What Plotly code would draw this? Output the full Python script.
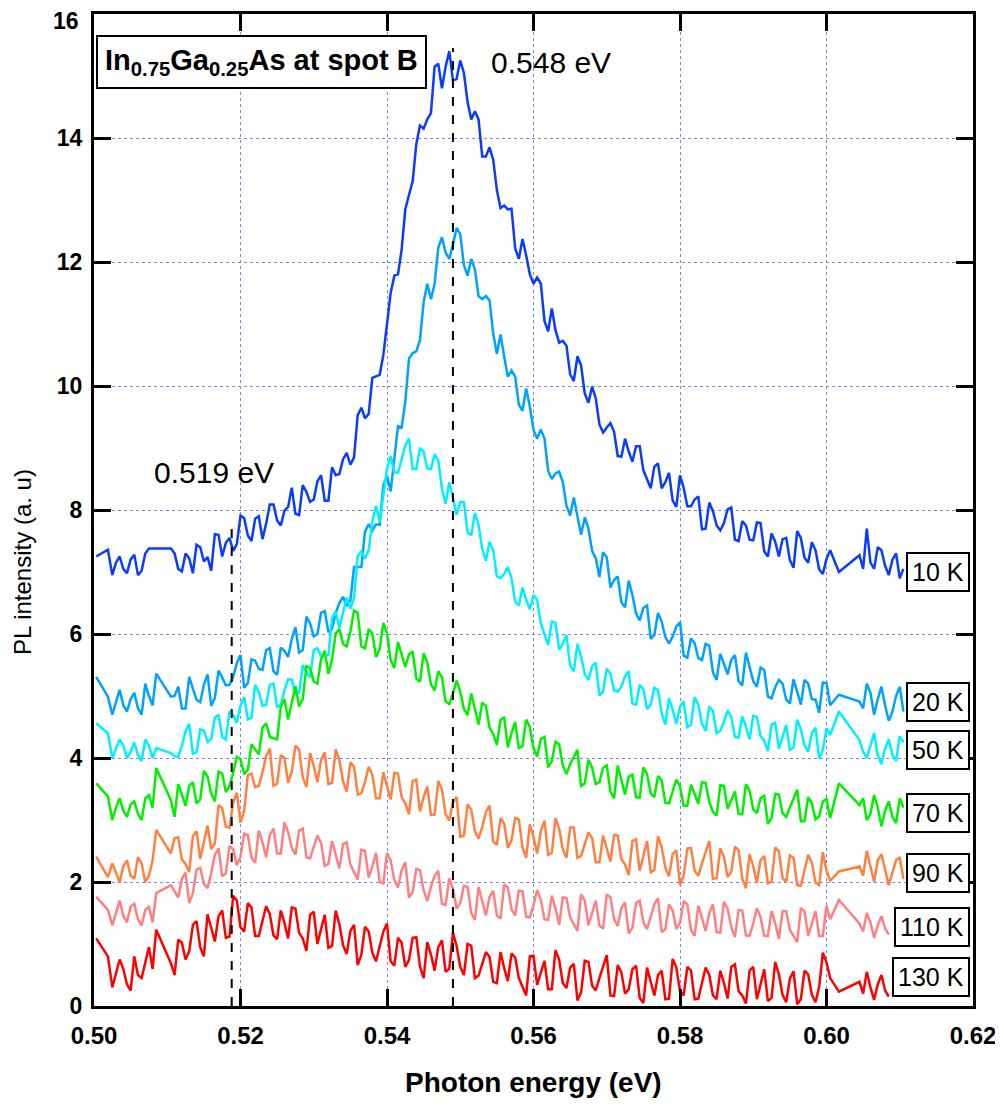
import plotly.graph_objects as go

# Photon energy sampling (eV) shared by all spectra
ENERGY = [
    0.5003, 0.5019, 0.5025, 0.5030, 0.5035, 0.5040, 0.5045, 0.5050, 0.5055, 0.5060,
    0.5065, 0.5070, 0.5075, 0.5080, 0.5085,
    0.5105, 0.5110, 0.5115, 0.5120, 0.5125, 0.5130, 0.5135, 0.5140, 0.5145, 0.5150,
    0.5155, 0.5160, 0.5165, 0.5170, 0.5175, 0.5180, 0.5185, 0.5190, 0.5195, 0.5200,
    0.5205, 0.5210, 0.5215, 0.5220, 0.5225, 0.5230, 0.5235, 0.5240, 0.5245, 0.5250,
    0.5255, 0.5260, 0.5265, 0.5270, 0.5275, 0.5280, 0.5285, 0.5290, 0.5295, 0.5300,
    0.5305, 0.5310, 0.5315, 0.5320, 0.5325, 0.5330, 0.5335, 0.5340, 0.5345, 0.5350,
    0.5355, 0.5360, 0.5365, 0.5370, 0.5375, 0.5380, 0.5385, 0.5390, 0.5395, 0.5400,
    0.5405, 0.5410, 0.5415, 0.5420, 0.5425, 0.5430, 0.5435, 0.5440, 0.5445, 0.5450,
    0.5455, 0.5460, 0.5465, 0.5470, 0.5475, 0.5480, 0.5485, 0.5490, 0.5495, 0.5500,
    0.5505, 0.5510, 0.5515, 0.5520, 0.5525, 0.5530, 0.5535, 0.5540, 0.5545, 0.5550,
    0.5555, 0.5560, 0.5565, 0.5570, 0.5575, 0.5580, 0.5585, 0.5590, 0.5595, 0.5600,
    0.5605, 0.5610, 0.5615, 0.5620, 0.5625, 0.5630, 0.5635, 0.5640, 0.5645, 0.5650,
    0.5655, 0.5660, 0.5665, 0.5670, 0.5675, 0.5680, 0.5685, 0.5690, 0.5695, 0.5700,
    0.5705, 0.5710, 0.5715, 0.5720, 0.5725, 0.5730, 0.5735, 0.5740, 0.5745, 0.5750,
    0.5755, 0.5760, 0.5765, 0.5770, 0.5775, 0.5780, 0.5785, 0.5790, 0.5795, 0.5800,
    0.5805, 0.5810, 0.5815, 0.5820, 0.5825, 0.5830, 0.5835, 0.5840, 0.5845, 0.5850,
    0.5855, 0.5860, 0.5865, 0.5870, 0.5875, 0.5880, 0.5885, 0.5890, 0.5895, 0.5900,
    0.5905, 0.5910, 0.5915, 0.5920, 0.5925, 0.5930, 0.5935, 0.5940, 0.5945, 0.5950,
    0.5955, 0.5960, 0.5965, 0.5970, 0.5975, 0.5980, 0.5985, 0.5990, 0.5995, 0.6000,
    0.6005,
    0.6017,
    0.6045, 0.6050, 0.6055, 0.6060, 0.6065, 0.6070, 0.6075, 0.6080, 0.6085, 0.6090,
    0.6095, 0.6100, 0.6105,
]

PL_10K = [
    7.25, 7.36, 6.95, 7.15, 7.25, 7.05, 6.98, 7.20, 7.28, 6.95, 7.02, 7.30, 7.38, 7.38, 7.38,
    7.38, 7.30, 7.05, 7.01, 7.30, 7.22, 6.98, 7.44, 7.40, 7.17, 7.24, 7.02, 7.61, 7.60, 7.25, 7.47, 7.55, 7.34, 7.45, 7.91,
    7.87, 7.59, 7.50, 7.86, 7.90, 7.53, 7.78, 8.09, 8.09, 7.83, 7.75, 7.99, 8.05, 8.36, 7.94, 7.92, 8.40, 8.29, 8.13, 8.17,
    8.46, 8.56, 8.15, 8.15, 8.69, 8.56, 8.58, 8.82, 8.92, 8.73, 8.85, 9.53, 9.65, 9.48, 9.55, 10.13, 10.15, 10.18, 10.50, 10.98,
    11.50, 11.78, 11.80, 12.20, 12.85, 13.08, 13.30, 13.90, 14.20, 14.15, 14.30, 14.40, 15.15, 15.20, 14.80, 15.15, 15.40, 14.93, 14.95, 15.25,
    15.05, 14.58, 14.30, 14.43, 14.30, 13.70, 13.70, 13.85, 13.65, 13.16, 12.87, 12.91, 12.85, 12.86, 12.22, 12.05, 12.37, 12.11, 11.80, 11.65,
    11.75, 11.65, 11.05, 10.88, 11.25, 10.90, 10.70, 10.73, 10.65, 10.19, 10.08, 10.48, 10.33, 9.88, 9.73, 9.99, 9.80, 9.38, 9.25, 9.33,
    9.40, 9.26, 8.87, 8.86, 9.15, 8.94, 8.78, 9.03, 9.03, 8.64, 8.50, 8.35, 8.70, 8.75, 8.35, 8.45, 8.60, 8.15, 8.05, 8.56,
    8.36, 8.06, 8.06, 8.17, 8.22, 7.69, 7.70, 8.12, 7.98, 7.75, 7.67, 7.79, 8.01, 8.04, 7.52, 7.50, 7.82, 7.75, 7.52, 7.51,
    7.80, 7.79, 7.33, 7.25, 7.62, 7.49, 7.25, 7.53, 7.55, 7.19, 7.07, 7.66, 7.55, 7.23, 7.15, 7.48, 7.35, 7.04, 6.97, 7.21,
    7.35,
    7.00,
    7.27, 7.05, 7.70, 7.15, 7.05, 7.40, 7.35, 7.10, 6.95, 7.20, 7.30, 6.90, 7.05,
]

PL_20K = [
    5.31, 4.99, 4.70, 4.90, 5.10, 4.85, 4.75, 4.95, 5.05, 4.80, 4.70, 5.20, 5.00, 4.85, 5.36,
    4.99, 5.00, 5.15, 4.80, 4.80, 5.31, 5.12, 4.94, 4.90, 5.18, 5.35, 4.84, 4.97, 5.41, 5.30, 5.17, 5.18, 5.31, 5.53, 5.66,
    5.13, 5.21, 5.59, 5.57, 5.44, 5.42, 5.74, 5.77, 5.40, 5.34, 5.78, 5.73, 5.63, 5.92, 6.11, 5.70, 5.74, 6.28, 6.17, 5.96,
    6.00, 6.34, 6.37, 6.03, 6.08, 6.34, 6.50, 6.60, 6.45, 6.54, 7.08, 7.08, 7.08, 7.65, 7.77, 7.67, 7.77, 7.76, 8.40, 8.55,
    8.30, 8.83, 9.35, 9.33, 9.75, 10.44, 10.53, 10.56, 10.74, 11.35, 11.65, 11.40, 11.65, 12.23, 12.40, 12.15, 12.05, 12.28, 12.55, 12.45,
    11.95, 11.78, 12.05, 11.88, 11.45, 11.40, 11.45, 11.38, 10.85, 10.52, 10.83, 10.47, 10.15, 10.25, 10.15, 9.70, 9.60, 9.96, 9.67, 9.29,
    9.15, 9.30, 9.15, 8.63, 8.50, 8.59, 8.62, 8.45, 8.07, 7.91, 8.20, 7.90, 7.60, 7.88, 7.70, 7.34, 7.22, 6.92, 7.32, 7.24,
    6.75, 6.87, 6.93, 6.51, 6.43, 6.86, 6.63, 6.33, 6.22, 6.42, 6.46, 5.92, 5.98, 6.34, 6.20, 5.95, 5.85, 5.96, 6.12, 6.19,
    5.65, 5.62, 5.93, 5.85, 5.61, 5.58, 5.84, 5.81, 5.38, 5.26, 5.68, 5.52, 5.35, 5.58, 5.66, 5.24, 5.17, 5.70, 5.47, 5.24,
    5.15, 5.46, 5.42, 4.99, 4.96, 5.14, 5.26, 5.20, 4.94, 4.88, 5.27, 5.07, 4.86, 5.26, 5.20, 4.95, 4.94, 4.73, 5.22, 5.21,
    4.85,
    5.02,
    4.91, 4.80, 5.20, 5.05, 4.70, 4.95, 5.15, 4.85, 4.60, 4.75, 5.00, 5.15, 4.75,
]

PL_50K = [
    4.56, 4.40, 4.00, 4.15, 4.30, 4.20, 4.00, 4.10, 4.25, 4.05, 3.95, 4.30, 4.20, 4.00, 4.16,
    4.08, 4.03, 4.02, 4.20, 4.43, 4.55, 4.07, 4.09, 4.46, 4.44, 4.26, 4.31, 4.65, 4.70, 4.34, 4.30, 4.75, 4.69, 4.57, 4.85,
    4.98, 4.62, 4.65, 5.18, 5.06, 4.84, 4.86, 5.18, 5.20, 4.83, 4.85, 5.09, 5.27, 5.26, 5.04, 5.05, 5.50, 5.38, 5.30, 5.74,
    5.77, 5.64, 5.65, 5.66, 6.26, 6.36, 6.10, 6.35, 6.59, 6.41, 6.58, 7.26, 7.33, 7.22, 7.35, 7.81, 8.07, 7.81, 8.20, 8.66,
    8.87, 8.61, 8.60, 8.82, 9.04, 9.15, 8.66, 8.66, 9.00, 8.94, 8.67, 8.66, 8.90, 8.80, 8.35, 8.10, 8.45, 8.21, 7.92, 8.13,
    8.13, 7.64, 7.59, 7.95, 7.76, 7.37, 7.18, 7.49, 7.35, 6.93, 6.90, 6.97, 7.08, 6.90, 6.52, 6.46, 6.75, 6.55, 6.40, 6.63,
    6.55, 6.17, 5.98, 5.82, 6.20, 6.18, 5.75, 5.84, 5.98, 5.49, 5.40, 5.84, 5.63, 5.35, 5.26, 5.48, 5.54, 5.01, 5.07, 5.44,
    5.36, 5.09, 5.07, 5.15, 5.32, 5.40, 4.88, 4.86, 5.18, 5.11, 4.79, 4.86, 5.13, 5.10, 4.72, 4.54, 4.96, 4.78, 4.55, 4.83,
    4.91, 4.50, 4.54, 4.98, 4.86, 4.55, 4.44, 4.83, 4.76, 4.40, 4.44, 4.58, 4.77, 4.66, 4.34, 4.33, 4.67, 4.51, 4.30, 4.68,
    4.66, 4.35, 4.28, 4.11, 4.54, 4.57, 4.15, 4.34, 4.53, 4.13, 4.17, 4.62, 4.46, 4.21, 4.10, 4.40, 4.49, 3.99, 4.13, 4.48,
    4.37,
    4.75,
    4.29, 4.10, 4.00, 4.20, 4.40, 4.05, 3.90, 4.15, 4.30, 4.05, 3.95, 4.35, 4.25,
]

PL_70K = [
    3.59, 3.38, 3.00, 3.20, 3.35, 3.15, 3.05, 3.25, 3.30, 3.10, 3.00, 3.35, 3.40, 3.20, 3.84,
    3.32, 3.05, 3.58, 3.41, 3.23, 3.55, 3.61, 3.27, 3.33, 3.79, 3.70, 3.43, 3.30, 3.78, 3.75, 3.45, 3.55, 3.76, 4.02, 3.98,
    3.74, 3.81, 4.22, 4.14, 4.06, 4.49, 4.56, 4.34, 4.32, 4.30, 4.83, 4.95, 4.62, 4.89, 5.16, 4.83, 4.95, 5.48, 5.45, 5.23,
    5.20, 5.59, 5.73, 5.36, 5.59, 6.01, 6.08, 5.84, 5.80, 6.04, 6.38, 6.34, 5.80, 5.77, 6.08, 6.01, 5.63, 5.76, 6.18, 6.01,
    5.58, 5.45, 5.87, 5.67, 5.47, 5.67, 5.72, 5.28, 5.23, 5.69, 5.54, 5.19, 5.09, 5.40, 5.30, 4.91, 4.87, 5.04, 5.25, 5.07,
    4.79, 4.69, 5.04, 4.79, 4.54, 4.89, 4.84, 4.49, 4.39, 4.21, 4.62, 4.65, 4.17, 4.40, 4.58, 4.16, 4.19, 4.62, 4.50, 4.16,
    4.02, 4.31, 4.34, 3.85, 3.95, 4.26, 4.22, 3.88, 3.74, 3.90, 4.01, 4.13, 3.55, 3.59, 3.97, 3.85, 3.58, 3.61, 3.84, 3.88,
    3.46, 3.35, 3.88, 3.62, 3.41, 3.70, 3.73, 3.37, 3.36, 3.85, 3.74, 3.43, 3.37, 3.71, 3.64, 3.28, 3.27, 3.46, 3.65, 3.54,
    3.23, 3.23, 3.57, 3.42, 3.26, 3.61, 3.60, 3.29, 3.13, 3.07, 3.56, 3.55, 3.18, 3.32, 3.46, 3.10, 3.09, 3.58, 3.47, 3.17,
    3.11, 3.35, 3.39, 2.94, 3.03, 3.42, 3.41, 3.11, 3.05, 3.20, 3.34, 3.49, 2.98, 2.98, 3.37, 3.27, 3.01, 3.06, 3.30, 3.34,
    3.03,
    3.59,
    3.24, 3.35, 3.00, 3.10, 3.40, 3.20, 2.90, 3.15, 3.30, 3.05, 2.95, 3.35, 3.20,
]

PL_90K = [
    2.41, 2.08, 2.30, 2.15, 2.00, 2.25, 2.35, 2.10, 2.05, 2.40, 2.30, 2.00, 2.10, 2.35, 2.84,
    2.46, 2.71, 2.72, 2.36, 2.29, 2.16, 2.74, 2.82, 2.37, 2.67, 2.91, 2.53, 2.62, 3.24, 3.19, 2.89, 2.88, 3.28, 3.44, 2.96,
    3.15, 3.72, 3.75, 3.53, 3.55, 3.77, 4.03, 4.15, 3.55, 3.59, 4.05, 4.00, 3.60, 3.78, 4.20, 4.14, 3.69, 3.53, 4.08, 3.87,
    3.61, 3.97, 4.09, 3.58, 3.60, 4.14, 3.96, 3.62, 3.46, 3.93, 3.86, 3.41, 3.43, 3.62, 3.86, 3.73, 3.35, 3.35, 3.77, 3.55,
    3.33, 3.76, 3.75, 3.37, 3.27, 3.09, 3.63, 3.65, 3.14, 3.37, 3.54, 3.08, 3.09, 3.63, 3.49, 3.10, 2.99, 3.28, 3.37, 2.73,
    2.75, 3.25, 3.17, 2.82, 2.70, 2.89, 3.13, 3.23, 2.65, 2.60, 3.03, 2.94, 2.55, 2.67, 3.03, 3.01, 2.56, 2.39, 2.93, 2.72,
    2.46, 2.82, 2.99, 2.44, 2.47, 3.03, 2.86, 2.53, 2.39, 2.88, 2.88, 2.39, 2.42, 2.61, 2.80, 2.71, 2.32, 2.32, 2.75, 2.54,
    2.33, 2.76, 2.75, 2.37, 2.28, 2.11, 2.66, 2.69, 2.18, 2.42, 2.66, 2.16, 2.19, 2.74, 2.56, 2.23, 2.09, 2.45, 2.51, 1.95,
    2.10, 2.54, 2.55, 2.18, 2.10, 2.30, 2.50, 2.66, 2.05, 2.06, 2.54, 2.41, 2.08, 2.16, 2.57, 2.51, 2.06, 1.90, 2.45, 2.25,
    1.99, 2.35, 2.42, 1.98, 2.01, 2.56, 2.49, 2.07, 1.99, 2.43, 2.39, 1.95, 1.94, 2.19, 2.44, 2.31, 1.99, 1.95, 2.48, 2.18,
    2.02,
    2.17,
    2.25, 2.10, 2.50, 2.25, 2.00, 2.35, 2.45, 2.20, 1.95, 2.15, 2.35, 2.40, 2.05,
]

PL_110K = [
    1.76, 1.55, 1.30, 1.50, 1.70, 1.45, 1.35, 1.60, 1.65, 1.40, 1.30, 1.55, 1.60, 1.35, 1.82,
    1.95, 1.85, 1.75, 2.05, 2.15, 1.66, 1.82, 2.20, 2.23, 1.97, 1.90, 2.15, 2.44, 2.54, 2.09, 2.14, 2.58, 2.53, 2.27, 2.40,
    2.78, 2.76, 2.39, 2.31, 2.83, 2.64, 2.40, 2.76, 2.86, 2.46, 2.46, 2.96, 2.81, 2.55, 2.44, 2.83, 2.86, 2.40, 2.38, 2.57,
    2.75, 2.63, 2.26, 2.29, 2.66, 2.44, 2.22, 2.61, 2.64, 2.28, 2.16, 2.04, 2.52, 2.50, 2.07, 2.25, 2.47, 2.00, 1.98, 2.47,
    2.35, 2.03, 1.91, 2.19, 2.32, 1.75, 1.83, 2.21, 2.19, 1.87, 1.69, 1.92, 2.10, 2.18, 1.65, 1.63, 2.06, 1.89, 1.57, 1.66,
    1.94, 1.92, 1.50, 1.39, 1.92, 1.67, 1.46, 1.76, 1.86, 1.46, 1.41, 1.96, 1.91, 1.56, 1.46, 1.86, 1.85, 1.44, 1.43, 1.63,
    1.87, 1.71, 1.40, 1.39, 1.78, 1.57, 1.31, 1.75, 1.74, 1.43, 1.32, 1.21, 1.80, 1.70, 1.30, 1.50, 1.70, 1.30, 1.25, 1.80,
    1.75, 1.40, 1.29, 1.58, 1.67, 1.17, 1.26, 1.66, 1.70, 1.35, 1.24, 1.44, 1.64, 1.74, 1.19, 1.24, 1.64, 1.54, 1.24, 1.34,
    1.69, 1.64, 1.23, 1.13, 1.62, 1.42, 1.21, 1.50, 1.64, 1.19, 1.18, 1.68, 1.57, 1.27, 1.11, 1.55, 1.54, 1.14, 1.13, 1.33,
    1.58, 1.43, 1.13, 1.13, 1.53, 1.33, 1.08, 1.53, 1.53, 1.23, 1.13, 1.03, 1.58, 1.53, 1.13, 1.33, 1.53, 1.13, 1.13, 1.62,
    1.40,
    1.71,
    1.33, 1.20, 1.50, 1.35, 1.10, 1.30, 1.45, 1.25, 1.15,
]

PL_130K = [
    1.09, 0.80, 0.30, 0.55, 0.75, 0.60, 0.35, 0.25, 0.80, 0.50, 0.45, 0.70, 0.95, 0.60, 1.23,
    0.69, 0.50, 1.07, 1.02, 0.75, 0.88, 1.31, 1.37, 0.95, 0.80, 1.48, 1.26, 1.04, 1.45, 1.54, 1.10, 1.12, 1.78, 1.70, 1.27,
    1.20, 1.66, 1.59, 1.13, 1.13, 1.37, 1.61, 1.48, 1.14, 1.08, 1.54, 1.34, 1.09, 1.59, 1.57, 1.18, 1.09, 0.89, 1.47, 1.52,
    1.00, 1.24, 1.47, 0.94, 0.97, 1.54, 1.32, 0.98, 0.84, 1.21, 1.31, 0.66, 0.83, 1.28, 1.20, 0.86, 0.72, 0.96, 1.20, 1.33,
    0.72, 0.65, 1.10, 1.02, 0.63, 0.74, 1.10, 1.11, 0.64, 0.45, 1.03, 0.83, 0.57, 0.95, 1.06, 0.55, 0.60, 1.18, 0.97, 0.63,
    0.50, 1.00, 0.97, 0.45, 0.49, 0.68, 0.87, 0.79, 0.39, 0.37, 0.87, 0.61, 0.40, 0.85, 0.78, 0.45, 0.32, 0.17, 0.80, 0.81,
    0.34, 0.54, 0.73, 0.27, 0.27, 0.90, 0.75, 0.37, 0.29, 0.62, 0.68, 0.09, 0.22, 0.73, 0.71, 0.33, 0.25, 0.45, 0.64, 0.82,
    0.17, 0.16, 0.66, 0.54, 0.20, 0.27, 0.59, 0.65, 0.13, 0.05, 0.62, 0.37, 0.17, 0.50, 0.57, 0.11, 0.12, 0.76, 0.62, 0.24,
    0.17, 0.63, 0.57, 0.11, 0.12, 0.37, 0.62, 0.50, 0.17, 0.11, 0.57, 0.37, 0.12, 0.63, 0.67, 0.24, 0.17, 0.04, 0.57, 0.63,
    0.11, 0.35, 0.59, 0.08, 0.13, 0.71, 0.51, 0.18, 0.06, 0.44, 0.56, 0.03, 0.11, 0.57, 0.51, 0.18, 0.06, 0.31, 0.86, 0.70,
    0.45,
    0.23,
    0.39, 0.20, 0.55, 0.30, 0.10, 0.35, 0.50, 0.25, 0.15,
]

SERIES_LABELS = ["10 K", "20 K", "50 K", "70 K", "90 K", "110 K", "130 K"]
SERIES_VALUES = [PL_10K, PL_20K, PL_50K, PL_70K, PL_90K, PL_110K, PL_130K]
LABEL_LEVELS = [7.0, 4.91, 4.13, 3.11, 2.15, 1.27, 0.47]

PEAK_ENERGIES = [0.5188, 0.549]
PEAK_LINE_TOPS = [7.8, 15.45]
PEAK_TEXTS = ["0.519 eV", "0.548 eV"]

X_TICKS = [0.50, 0.52, 0.54, 0.56, 0.58, 0.60, 0.62]
X_TICK_TEXT = ["0.50", "0.52", "0.54", "0.56", "0.58", "0.60", "0.62"]
Y_TICKS = [0, 2, 4, 6, 8, 10, 12, 14, 16]
# the top label ("16") is drawn separately so it is not clipped at the page edge
Y_TICK_TEXT = ["0", "2", "4", "6", "8", "10", "12", "14", ""]
Y_TOP_LABEL = "16"

COLORS = ["#0a3cff", "#00a2ff", "#00f0ff", "#00f000", "#ff8040", "#ff8080", "#ff0000"]
FONT = "Liberation Sans, Arial, Helvetica, sans-serif"

fig = go.Figure()
for label, vals, color in zip(SERIES_LABELS, SERIES_VALUES, COLORS):
    fig.add_trace(go.Scatter(
        x=ENERGY[:len(vals)], y=vals, mode="lines", name=label,
        line=dict(color=color, width=2.5), showlegend=False,
    ))

# dashed peak markers
for e, top in zip(PEAK_ENERGIES, PEAK_LINE_TOPS):
    fig.add_shape(type="line", xref="x", yref="y", x0=e, x1=e, y0=0, y1=top,
                  line=dict(color="black", width=2, dash="dash"), layer="above")

annotations = []
for label, lvl in zip(SERIES_LABELS, LABEL_LEVELS):
    annotations.append(dict(
        x=0.9966, xref="paper", xanchor="right", y=lvl, yref="y", yanchor="middle",
        text=label, showarrow=False, font=dict(family=FONT, size=25, color="black"),
        bgcolor="white", bordercolor="black", borderwidth=2, borderpad=4,
    ))

peak_pos = [(0.1365, 0.5383), (0.52, 0.9516)]
for txt, (px, py) in zip(PEAK_TEXTS, peak_pos):
    annotations.append(dict(
        x=px, y=py, xref="paper", yref="paper", xanchor="center", yanchor="middle",
        text=txt, showarrow=False, font=dict(family=FONT, size=30, color="black"),
    ))

annotations.append(dict(
    x=0.19, y=0.9521, xref="paper", yref="paper", xanchor="center", yanchor="middle",
    text="<b>In<sub>0.75</sub>Ga<sub>0.25</sub>As at spot B</b>", showarrow=False,
    font=dict(family=FONT, size=29, color="black"),
    bgcolor="white", bordercolor="black", borderwidth=2, borderpad=7,
))

# top y tick label
annotations.append(dict(
    x=-0.016, xref="paper", xanchor="right", y=Y_TICKS[-1], yref="y", yanchor="top",
    yshift=7, text="<b>" + Y_TOP_LABEL + "</b>", showarrow=False,
    font=dict(family=FONT, size=23, color="black"), borderpad=0,
))

annotations.append(dict(
    x=0.5, y=-0.0776, xref="paper", yref="paper", xanchor="center", yanchor="middle",
    text="<b>Photon energy (eV)</b>", showarrow=False,
    font=dict(family=FONT, size=28, color="black"),
))
annotations.append(dict(
    x=-0.0808, y=0.4476, xref="paper", yref="paper", xanchor="center", yanchor="middle",
    text="PL intensity (a. u)", textangle=-90, showarrow=False,
    font=dict(family=FONT, size=24, color="black"),
))

# the page body adds an 8px margin; size the figure so the plot lands where the reference has it
fig.update_layout(
    width=995, height=1096,
    margin=dict(l=86, r=30, t=6, b=98, autoexpand=False),
    paper_bgcolor="white", plot_bgcolor="white",
    showlegend=False,
    font=dict(family=FONT, color="black"),
    annotations=annotations,
)

axis_common = dict(
    showline=True, linecolor="black", linewidth=3, mirror="ticks",
    ticks="inside", ticklen=17, tickwidth=3, tickcolor="black",
    showgrid=True, gridcolor="#8080ff", gridwidth=1, griddash="dot",
    zeroline=False, automargin=False, ticklabeloverflow="allow",
)
fig.update_xaxes(
    range=[0.5, 0.62], tickmode="array", tickvals=X_TICKS, ticktext=X_TICK_TEXT,
    tickfont=dict(family=FONT, size=24, color="black", weight="bold"),
    ticklabelstandoff=6, **axis_common,
)
fig.update_yaxes(
    range=[0, 16], tickmode="array", tickvals=Y_TICKS, ticktext=Y_TICK_TEXT,
    tickfont=dict(family=FONT, size=23, color="black", weight="bold"),
    ticklabelstandoff=4, **axis_common,
)

fig.write_html("out.html")
